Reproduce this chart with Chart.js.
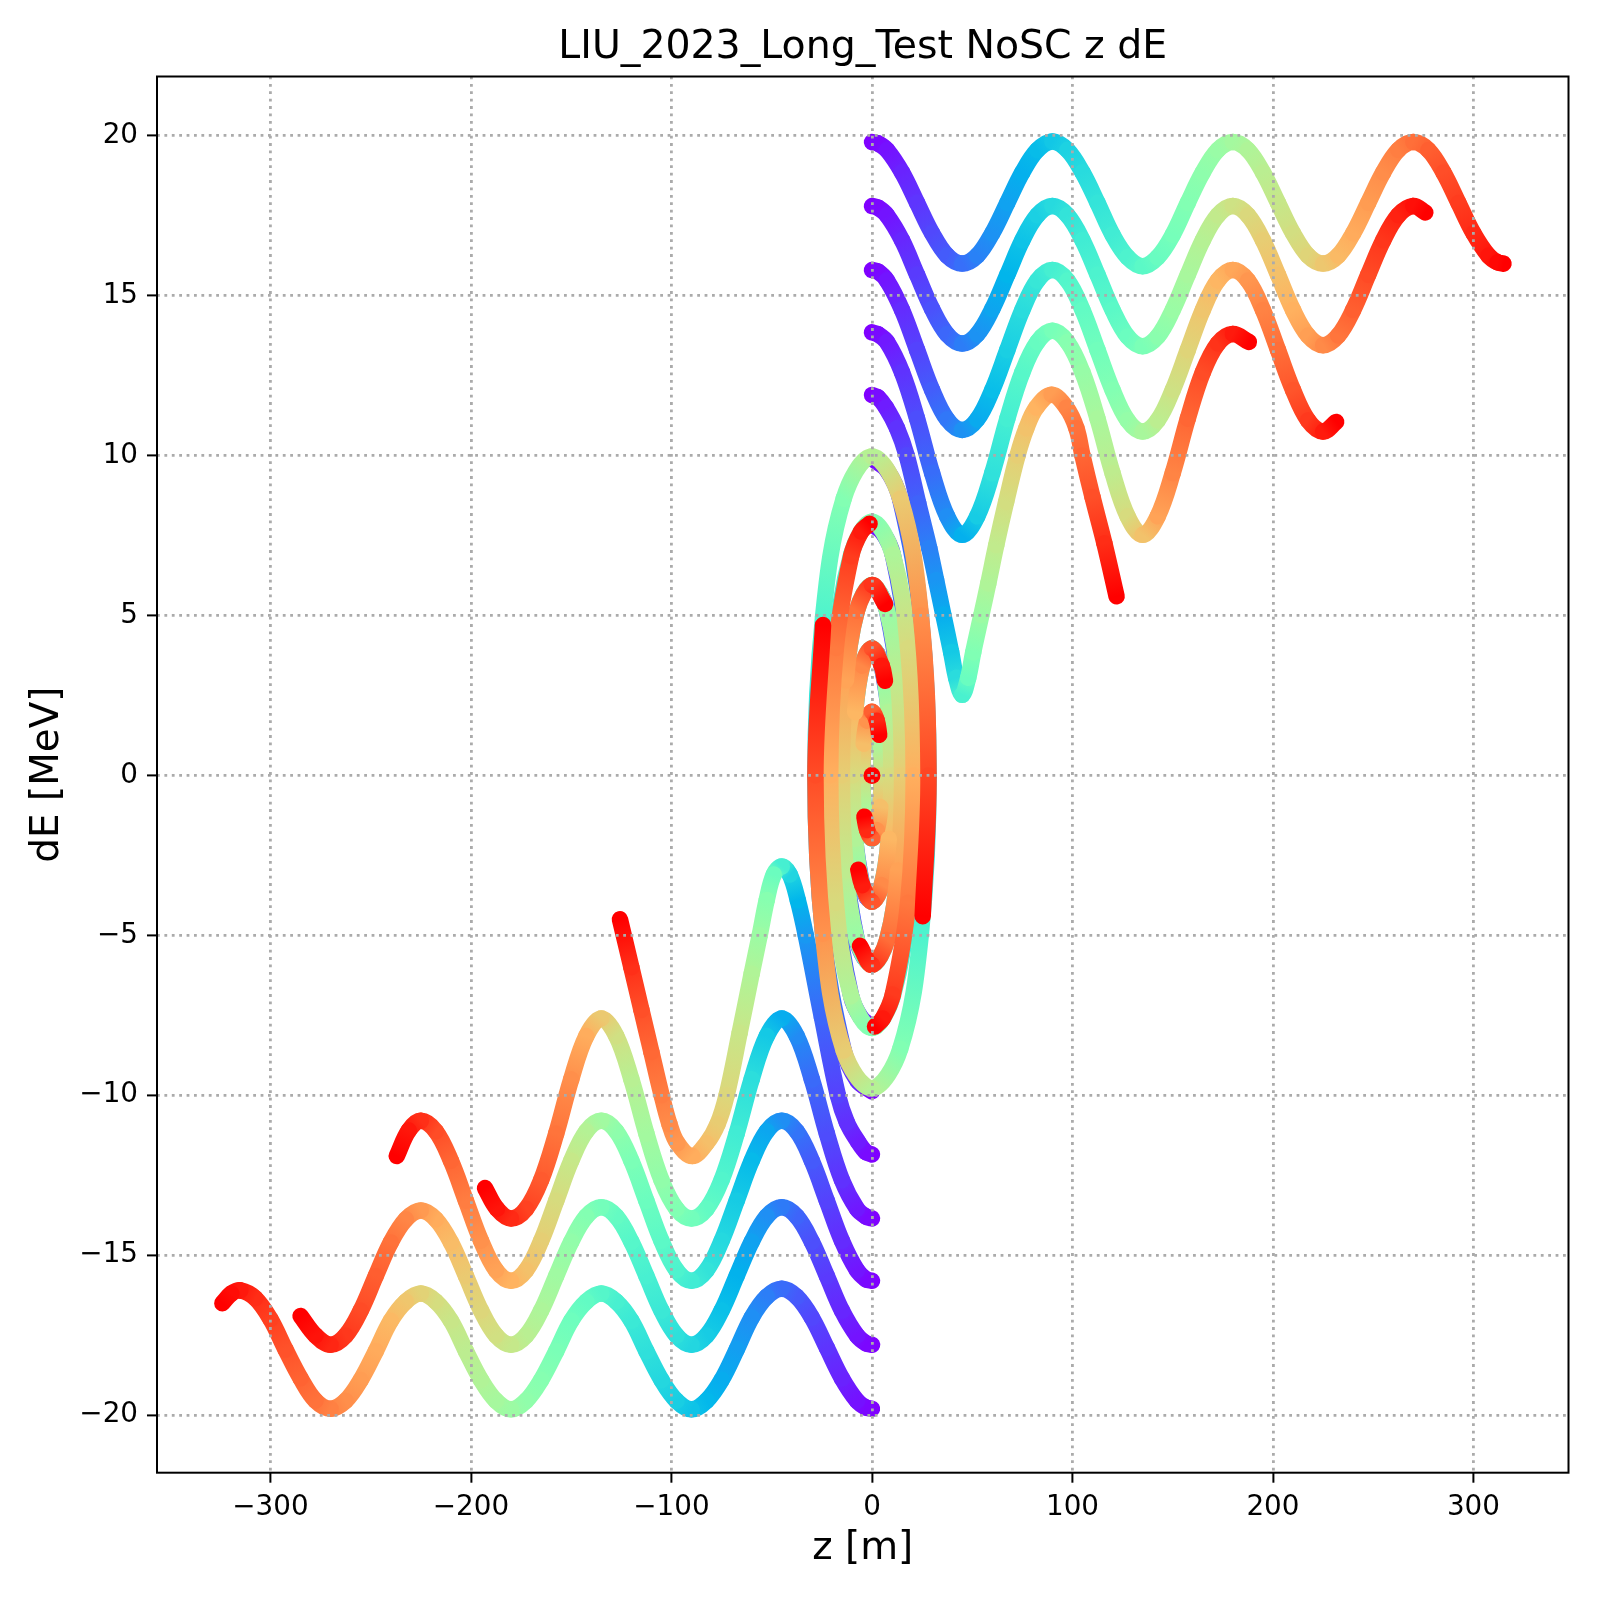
<!DOCTYPE html>
<html><head><meta charset="utf-8">
<style>html,body{margin:0;padding:0;background:#fff}canvas{display:block}</style>
<script src="https://cdn.jsdelivr.net/npm/chart.js@4"></script>
</head><body><canvas id="c" width="1600" height="1600"></canvas>
<script>
const titleText = 'LIU_2023_Long_Test NoSC z dE';
const xLabel = 'z [m]';
const yLabel = 'dE [MeV]';
const xTicks = [-300,-200,-100,0,100,200,300];
const yTicks = [-20,-15,-10,-5,0,5,10,15,20];

// arms: z [m] and dE [MeV]
const zA1 = [0,3,7.5,15,22.5,30,37.5,45,52.5,60,67.5,75,82.5,90,97.5,105,112.5,120,127.5,135,142.5,150,157.5,165,172.5,180,187.5,195,202.5,210,217.5,225,232.5,240,247.5,255,262.5,270,277.5,285,292.5,300,307.5,312,315];
const eA1 = [19.8,19.76,19.55,18.85,17.9,16.95,16.25,16.0,16.25,16.95,17.9,18.85,19.55,19.82,19.55,18.85,17.9,16.9,16.2,15.92,16.2,16.9,17.9,18.85,19.55,19.8,19.55,18.85,17.9,16.95,16.25,16.0,16.25,16.95,17.9,18.85,19.55,19.8,19.55,18.85,17.9,16.95,16.25,16.04,16.0];
const zA2 = [0,3,7.5,15,22.5,30,37.5,45,52.5,60,67.5,75,82.5,90,97.5,105,112.5,120,127.5,135,142.5,150,157.5,165,172.5,180,187.5,195,202.5,210,217.5,225,232.5,240,247.5,255,262.5,270,276];
const eA2 = [17.8,17.75,17.51,16.73,15.65,14.58,13.79,13.5,13.79,14.58,15.65,16.73,17.51,17.8,17.51,16.73,15.65,14.55,13.72,13.42,13.72,14.55,15.65,16.73,17.51,17.8,17.51,16.73,15.65,14.55,13.75,13.45,13.75,14.55,15.65,16.73,17.51,17.8,17.6];
const zA3 = [0,3,7.5,15,22.5,30,37.5,45,52.5,60,67.5,75,82.5,90,97.5,105,112.5,120,127.5,135,142.5,150,157.5,165,172.5,180,187.5,195,202.5,210,217.5,225,231.5];
const eA3 = [15.8,15.75,15.47,14.55,13.3,12.05,11.13,10.8,11.13,12.05,13.3,14.55,15.47,15.8,15.47,14.55,13.3,12.05,11.1,10.75,11.1,12.05,13.3,14.55,15.47,15.8,15.47,14.55,13.3,12.05,11.1,10.75,11.05];
const zA4 = [0,3,7.5,15,22.5,30,37.5,45,52.5,60,67.5,75,82.5,90,97.5,105,112.5,120,127.5,135,142.5,150,157.5,165,172.5,180,188];
const eA4 = [13.85,13.79,13.55,12.6,11.15,9.45,8.1,7.52,8.1,9.45,11.15,12.6,13.55,13.9,13.55,12.6,11.15,9.45,8.1,7.52,8.1,9.45,11.15,12.6,13.5,13.8,13.55];
const zA5 = [0,3,7,12.5,17.3,23.1,28.6,32,35.6,39.5,42,45,48,50.5,54.6,58,62,66.9,72.6,77,82,89.6,97,102,105,110,115.9,122];
const eA5 = [11.89,11.82,11.5,10.85,10,8.5,7.1,6.1,5.02,3.85,3.05,2.52,3.05,3.85,5.02,6,7.2,8.55,10,10.85,11.5,11.9,11.5,10.85,10,8.7,7.26,5.6];

const zB1 = [0,-3,-7.5,-15,-22.5,-30,-37.5,-45,-52.5,-60,-67.5,-75,-82.5,-90,-97.5,-105,-112.5,-120,-127.5,-135,-142.5,-150,-157.5,-165,-172.5,-180,-187.5,-195,-202.5,-210,-217.5,-225,-232.5,-240,-247.5,-255,-262.5,-270,-277.5,-285,-292.5,-300,-307.5,-315,-319.5,-324];
const eB1 = [-19.8,-19.76,-19.55,-18.85,-17.9,-16.95,-16.3,-16.05,-16.3,-16.95,-17.95,-18.9,-19.55,-19.82,-19.55,-18.9,-18,-17.05,-16.45,-16.2,-16.45,-17.05,-18,-18.9,-19.55,-19.82,-19.55,-18.9,-18,-17.05,-16.45,-16.2,-16.45,-17.05,-18,-18.9,-19.55,-19.8,-19.55,-18.85,-17.95,-17,-16.35,-16.1,-16.2,-16.5];
const zB2 = [0,-3,-7.5,-15,-22.5,-30,-37.5,-45,-52.5,-60,-67.5,-75,-82.5,-90,-97.5,-105,-112.5,-120,-127.5,-135,-142.5,-150,-157.5,-165,-172.5,-180,-187.5,-195,-202.5,-210,-217.5,-225,-232.5,-240,-247.5,-255,-262.5,-270,-277.5,-285];
const eB2 = [-17.8,-17.75,-17.51,-16.73,-15.65,-14.58,-13.79,-13.5,-13.79,-14.58,-15.65,-16.73,-17.51,-17.8,-17.51,-16.73,-15.65,-14.58,-13.79,-13.5,-13.79,-14.58,-15.65,-16.73,-17.51,-17.8,-17.51,-16.73,-15.65,-14.6,-13.88,-13.6,-13.88,-14.6,-15.65,-16.73,-17.51,-17.8,-17.51,-16.9];
const zB3 = [0,-3,-7.5,-15,-22.5,-30,-37.5,-45,-52.5,-60,-67.5,-75,-82.5,-90,-97.5,-105,-112.5,-120,-127.5,-135,-142.5,-150,-157.5,-165,-172.5,-180,-187.5,-195,-202.5,-210,-217.5,-225,-231,-237];
const eB3 = [-15.8,-15.75,-15.47,-14.55,-13.3,-12.05,-11.13,-10.8,-11.13,-12.05,-13.3,-14.55,-15.47,-15.8,-15.47,-14.55,-13.3,-12.05,-11.13,-10.8,-11.13,-12.05,-13.3,-14.55,-15.47,-15.8,-15.47,-14.55,-13.3,-12.05,-11.13,-10.8,-11.1,-11.9];
const zB4 = [0,-3,-7.5,-15,-22.5,-30,-37.5,-45,-52.5,-60,-67.5,-75,-82.5,-90,-97.5,-105,-112.5,-120,-127.5,-135,-142.5,-150,-157.5,-165,-172.5,-180,-187,-193];
const eB4 = [-13.85,-13.79,-13.55,-12.65,-11.2,-9.5,-8.15,-7.6,-8.15,-9.5,-11.2,-12.65,-13.55,-13.85,-13.55,-12.65,-11.2,-9.5,-8.15,-7.6,-8.15,-9.5,-11.2,-12.65,-13.55,-13.85,-13.55,-12.9];
const zB5 = [0,-3,-7,-12.5,-17,-25,-33,-37,-41,-45,-49,-52.5,-56,-60,-66,-72.5,-77,-82.5,-89.6,-97,-101,-104.9,-110,-115,-120,-125.7];
const eB5 = [-11.85,-11.78,-11.45,-10.85,-10,-7.55,-5,-3.9,-3.1,-2.85,-3.1,-3.9,-5,-6.2,-8.05,-10,-10.9,-11.5,-11.9,-11.5,-10.9,-10,-8.65,-7.33,-6,-4.5];

// rings around the centre
const zR10p = [0,7.3,14.1,24.4,28.2,24.4,14.1,0,-14.1,-24.4,-28.2,-24.4];
const eR10p = [9.9,9.56,8.62,4.95,0,-4.95,-8.55,-9.78,-8.6,-4.95,0,4.7];
const zR10m = [0,-7.3,-14.1,-24.4,-28.2,-24.4,-14.1,0,14.1,24.4,28.2,25.3];
const eR10m = [-9.88,-9.54,-8.6,-4.95,0,4.95,8.65,9.97,8.65,5,0,-4.4];
const zR8p = [0,5.4,10.4,18,20.8,18,10.4,0,-10.4,-18,-20.8,-18,-10.4,-5.4,-1.2];
const eR8p = [7.85,7.58,6.9,3.98,0,-3.98,-6.9,-7.9,-6.9,-3.98,0,3.98,6.85,7.62,7.87];
const zR8m = [0,-5.4,-10.4,-18,-20.8,-18,-10.4,0,10.4,18,20.8,18,10.4,5.4,1.5];
const eR8m = [-7.85,-7.58,-6.9,-3.98,0,3.98,6.9,7.93,6.9,3.98,0,-3.98,-6.85,-7.6,-7.85];
const zR6p = [0,3.9,7.5,13,15,13,7.5,0,-7.5,-13,-15,-13,-7.5,0,6.5];
const eR6p = [5.9,5.7,5.15,2.97,0,-2.97,-5.15,-5.92,-5.15,-2.97,0,2.97,5.15,5.95,5.36];
const zR6m = [0,-3.9,-7.5,-13,-15,-13,-7.5,0,7.5,13,15,13,7.5,0,-6];
const eR6m = [-5.9,-5.7,-5.15,-2.97,0,2.97,5.15,5.95,5.15,2.97,0,-2.97,-5.15,-5.92,-5.33];
const zR4p = [0,2.5,4.85,8.4,9.7,8.4,4.85,0,-4.85,-8.4,-9.7,-8.4,-4.85,0,4.85,6.5];
const eR4p = [3.95,3.82,3.43,1.98,0,-1.98,-3.43,-3.95,-3.43,-1.98,0,1.98,3.43,3.97,3.43,2.96];
const zR4m = [0,-2.5,-4.85,-8.4,-9.7,-8.4,-4.85,0,4.85,8.4,9.7,8.4,4.85,0,-4.85,-6.8];
const eR4m = [-3.95,-3.82,-3.43,-1.98,0,1.98,3.43,3.97,3.43,1.98,0,-1.98,-3.43,-3.95,-3.43,-2.95];
const zR2p = [0,1.25,2.4,4.15,4.8,4.15,2.4,0,-2.4,-4.15,-4.8,-4.15,-2.4,0,2.4,3.6];
const eR2p = [1.97,1.9,1.71,0.99,0,-0.99,-1.71,-1.97,-1.71,-0.99,0,0.99,1.71,1.99,1.71,1.27];
const zR2m = [0,-1.25,-2.4,-4.15,-4.8,-4.15,-2.4,0,2.4,4.15,4.8,4.15,2.4,0,-2.4,-3.8];
const eR2m = [-1.97,-1.9,-1.71,-0.99,0,0.99,1.71,1.97,1.71,0.99,0,-0.99,-1.71,-1.96,-1.71,-1.29];
const zC = [0];
const eC = [0];

const arms = [[zA1,eA1],[zA2,eA2],[zA3,eA3],[zA4,eA4],[zA5,eA5],[zB1,eB1],[zB2,eB2],[zB3,eB3],[zB4,eB4],[zB5,eB5]];
const rings = [[zR2p,eR2p],[zR2m,eR2m],[zR4p,eR4p],[zR4m,eR4m],[zR6p,eR6p],[zR6m,eR6m],[zR8p,eR8p],[zR8m,eR8m],[zR10p,eR10p],[zR10m,eR10m]];
const bands = [0,0.15,0.3,0.45,0.6,0.75,0.88,1.01];

function rainbow(t){
  const c = v => Math.round(255*Math.max(0,Math.min(1,v)));
  return `rgb(${c(Math.abs(2*t-0.5))},${c(Math.sin(Math.PI*t))},${c(Math.cos(Math.PI*t/2))})`;
}
// colour follows elapsed time: on the arms dt ~ dz/|dE|, on the rings it follows the phase angle
function armTime(z,e){
  const t=[0];
  for(let i=1;i<z.length;i++) t.push(t[i-1]+Math.abs(z[i]-z[i-1])*0.5*(1/Math.abs(e[i])+1/Math.abs(e[i-1])));
  return t.map(v=>v/t[t.length-1]);
}
function ringTime(z,e){
  const Z=Math.max(...z.map(Math.abs)), A=Math.max(...e.map(Math.abs));
  const t=[0];
  for(let i=1;i<z.length;i++) t.push(t[i-1]+Math.hypot((z[i]-z[i-1])/Z,(e[i]-e[i-1])/A));
  return t.map(v=>v/t[t.length-1]);
}
const WIDTH = 16.5;
const canvas = document.getElementById('c');
const gfx = canvas.getContext('2d');
const tracks = arms.map(([z,e])=>({z,e,t:armTime(z,e)})).concat(rings.map(([z,e])=>({z,e,t:ringTime(z,e)})));
const datasets = [];
for(let b=0;b<bands.length-1;b++){
  const lo=bands[b], hi=bands[b+1];
  for(const tr of tracks){
    datasets.push({
      data: tr.z.map((x,i)=>({x,y:tr.e[i]})),
      showLine:true,
      tension:0.37, pointRadius:0, borderWidth:WIDTH, borderColor:'rgba(0,0,0,0)',
      borderCapStyle:'round', borderJoinStyle:'round', fill:false,
      segment:{
        borderCapStyle:'round', borderJoinStyle:'round', borderWidth:WIDTH,
        borderColor(ctx){
          const i=ctx.p0DataIndex, j=ctx.p1DataIndex, m=(tr.t[i]+tr.t[j])/2;
          if(m<lo||m>=hi) return 'rgba(0,0,0,0)';
          const g=gfx.createLinearGradient(ctx.p0.x,ctx.p0.y,ctx.p1.x,ctx.p1.y);
          g.addColorStop(0,rainbow(tr.t[i])); g.addColorStop(1,rainbow(tr.t[j]));
          return g;
        }
      }
    });
  }
}
datasets.push({data:zC.map((x,i)=>({x,y:eC[i]})),showLine:false,pointRadius:8.5,pointBackgroundColor:'#ff0000',pointBorderWidth:0});
datasets.forEach((d,i)=>{d.order=datasets.length-i;});

const FONT='"DejaVu Sans"';
const frame={id:'frame',afterDraw(c){const a=c.chartArea,g=c.ctx;g.save();g.strokeStyle='#000';g.lineWidth=2;g.strokeRect(a.left,a.top,a.right-a.left,a.bottom-a.top);g.restore();}};
const axis=(vals,extra)=>Object.assign({
  type:'linear',
  afterBuildTicks(s){s.ticks=vals.map(value=>({value}));},
  grid:{color:'#ababab',lineWidth:2.8,z:1,tickColor:'#000',tickWidth:2,tickLength:10,tickBorderDash:[]},
  border:{display:false,dash:[2.8,4.6]},
},extra);
new Chart(canvas,{
  type:'scatter',
  data:{datasets},
  plugins:[frame],
  options:{
    responsive:false,animation:false,devicePixelRatio:1,
    layout:{padding:{left:0,right:31.5,top:0,bottom:0}},
    plugins:{
      legend:{display:false},tooltip:{enabled:false},
      title:{display:true,text:titleText,fullSize:false,color:'#000',font:{family:FONT,size:39.4,weight:'normal',lineHeight:1},padding:{top:28,bottom:9.1}}
    },
    scales:{
      x:axis(xTicks,{min:-356.6,max:347.4,afterFit(s){s.height=127.3;},
        ticks:{color:'#000',font:{family:FONT,size:27.8},padding:8,maxRotation:0,minRotation:0,autoSkip:false,callback:v=>String(v).replace('-','\u2212')},
        title:{display:true,text:xLabel,color:'#000',font:{family:FONT,size:38.9,lineHeight:1},padding:{top:0,bottom:31.5}}}),
      y:axis(yTicks,{min:-21.8,max:21.85,afterFit(s){s.width=157;},
        ticks:{color:'#000',font:{family:FONT,size:27.8},padding:9,autoSkip:false,callback:v=>String(v).replace('-','\u2212')},
        title:{display:true,text:yLabel,color:'#000',font:{family:FONT,size:38.9,lineHeight:1},padding:{top:28.5,bottom:0}}})
    }
  }
});
</script></body></html>
